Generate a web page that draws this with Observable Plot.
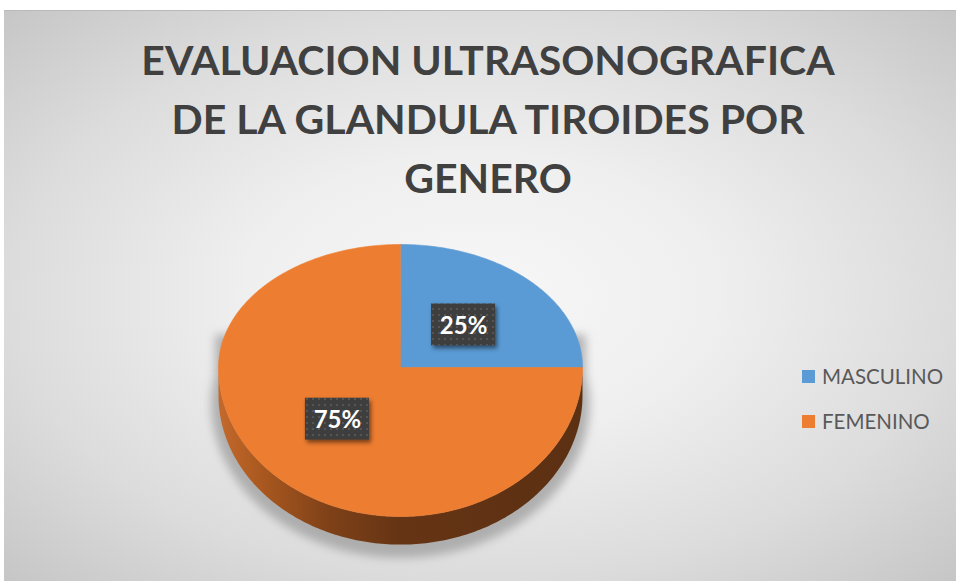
<!DOCTYPE html>
<html>
<head>
<meta charset="utf-8">
<script src="https://cdn.jsdelivr.net/npm/d3@7"></script>
<script src="https://cdn.jsdelivr.net/npm/@observablehq/plot@0.6"></script>
<style>
html, body { margin: 0; padding: 0; background: #ffffff; width: 956px; height: 581px; overflow: hidden; }
#chart {
  position: absolute; left: 4px; top: 10px; width: 952px; height: 571px;
  box-sizing: border-box; border-top: 1px solid #b9b9b9;
  background: radial-gradient(ellipse farthest-corner at 50% 50%, #f7f7f7 0%, #efefef 35%, #dcdcdc 70%, #c6c6c6 100%);
  font-family: Lato, "Open Sans", sans-serif;
}
#title {
  height: 205px; box-sizing: border-box; padding-top: 19px; padding-left: 16px;
  text-align: center; font-weight: 700; font-size: 41px; line-height: 59px; color: #404040;
  white-space: nowrap;
}
#title span { display: block; }
#legend { position: absolute; left: 798px; top: 354px; }
.lrow { display: flex; align-items: center; height: 22px; margin-bottom: 23px; font-size: 20.5px; color: #595959; }
.lsw { width: 13px; height: 13px; margin-right: 7px; flex: none; }
g[aria-label="rect"] { filter: drop-shadow(2px 3px 2px rgba(0,0,0,0.5)); }
</style>
</head>
<body>
<div id="chart">
  <div id="title"></div>
  <div id="plot"></div>
  <div id="legend"></div>
</div>
<script>
// ---- data ----
const tituloLineas = ["EVALUACION ULTRASONOGRAFICA", "DE LA GLANDULA TIROIDES POR", "GENERO"];
const generos = ["MASCULINO", "FEMENINO"];
const porcentajes = [25, 75];
const colores = ["#5b9bd5", "#ed7d31"];

// ---- title ----
const titleEl = document.getElementById("title");
tituloLineas.forEach(t => { const s = document.createElement("span"); s.textContent = t; titleEl.appendChild(s); });

// ---- legend ----
const legendEl = document.getElementById("legend");
generos.forEach((g, i) => {
  const row = document.createElement("div"); row.className = "lrow";
  const sw = document.createElement("div"); sw.className = "lsw"; sw.style.background = colores[i];
  const tx = document.createElement("span"); tx.textContent = g;
  row.appendChild(sw); row.appendChild(tx); legendEl.appendChild(row);
});

// ---- 3D pie geometry (perspective-ish ellipse) ----
const kTop = 0.676, kBot = 0.819, depth = 0.154;
function proj(deg, r = 1, dz = 0) {
  const t = deg * Math.PI / 180, c = Math.cos(t);
  return { x: r * Math.sin(t), y: r * c * (c > 0 ? kTop : kBot) - dz };
}
const total = d3.sum(porcentajes);
let acc = 0;
const slices = generos.map((g, i) => {
  const a0 = acc / total * 360; acc += porcentajes[i]; const a1 = acc / total * 360;
  const mid = (a0 + a1) / 2, lp = proj(mid, 0.49);
  return { g, a0, a1, color: colores[i], label: `${porcentajes[i]}%`, lx: lp.x, ly: lp.y };
});
function arc(a0, a1, r, dz) {
  const pts = []; const n = Math.max(2, Math.ceil(Math.abs(a1 - a0)));
  for (let k = 0; k <= n; k++) pts.push(proj(a0 + (a1 - a0) * k / n, r, dz));
  return pts;
}
// top faces
const topPts = slices.flatMap(s => [{ x: 0, y: 0 }, ...arc(s.a0, s.a1, 1, 0)].map(p => ({ ...p, g: s.g, color: s.color })));
// side walls (front half only: 90..270 deg)
const sidePts = slices.flatMap(s => {
  const lo = Math.max(s.a0, 90), hi = Math.min(s.a1, 270);
  if (hi <= lo) return [];
  return [...arc(lo, hi, 1, 0), ...arc(hi, lo, 1, depth)].map(p => ({ ...p, g: s.g }));
});
// silhouette for soft shadow (lower part of the pie)
const shadowPts = arc(78, 282, 1.04, depth * 1.15).concat([proj(282, 1.04, -0.05), proj(78, 1.04, -0.05)]);

const bw = 0.176, bh = 0.115;

const svg = Plot.plot({
  width: 952, height: 355, margin: 0,
  style: { background: "transparent", overflow: "visible" },
  x: { domain: [-1, 1], range: [214, 578], axis: null },
  y: { domain: [1, -1], range: [-31, 333], axis: null },
  color: { type: "identity" },
  marks: [
    Plot.line(shadowPts, { x: "x", y: "y", curve: "linear-closed", fill: "#9c9c9c", fillOpacity: 0.75, stroke: "none", dy: 3 }),
    Plot.line(sidePts, { x: "x", y: "y", z: "g", curve: "linear-closed", fill: "url(#sideGrad)", stroke: "none" }),
    Plot.line(topPts, { x: "x", y: "y", z: "g", curve: "linear-closed", fill: "color", stroke: "color", strokeWidth: 0.6 }),
    Plot.rect(slices, { x1: d => d.lx - bw, x2: d => d.lx + bw, y1: d => d.ly - bh, y2: d => d.ly + bh, fill: "url(#dots)" }),
    Plot.text(slices, { x: "lx", y: "ly", text: "label", fill: "white", fontSize: 24, fontWeight: "bold", fontFamily: "Lato, 'Open Sans', sans-serif", dy: 1 })
  ]
});

const defs = d3.select(svg).insert("defs", ":first-child");
const lg = defs.append("linearGradient").attr("id", "sideGrad").attr("x1", 0).attr("x2", 1).attr("y1", 0).attr("y2", 0);
[[0, "#c4692c"], [0.12, "#a9581f"], [0.3, "#7f4118"], [0.5, "#653414"], [1, "#5c3013"]]
  .forEach(([o, c]) => lg.append("stop").attr("offset", o).attr("stop-color", c));
const pat = defs.append("pattern").attr("id", "dots").attr("width", 6).attr("height", 6).attr("patternUnits", "userSpaceOnUse");
pat.append("rect").attr("width", 6).attr("height", 6).attr("fill", "#3e3e3e");
pat.append("rect").attr("x", 2).attr("y", 2).attr("width", 2).attr("height", 2).attr("fill", "#555555");
const flt = defs.append("filter").attr("id", "blurSombra").attr("x", "-20%").attr("y", "-20%").attr("width", "140%").attr("height", "140%");
flt.append("feGaussianBlur").attr("stdDeviation", 5);
const lineGroups = svg.querySelectorAll('g[aria-label="line"]');
if (lineGroups.length) lineGroups[0].setAttribute("filter", "url(#blurSombra)");

document.getElementById("plot").appendChild(svg);
</script>
</body>
</html>
